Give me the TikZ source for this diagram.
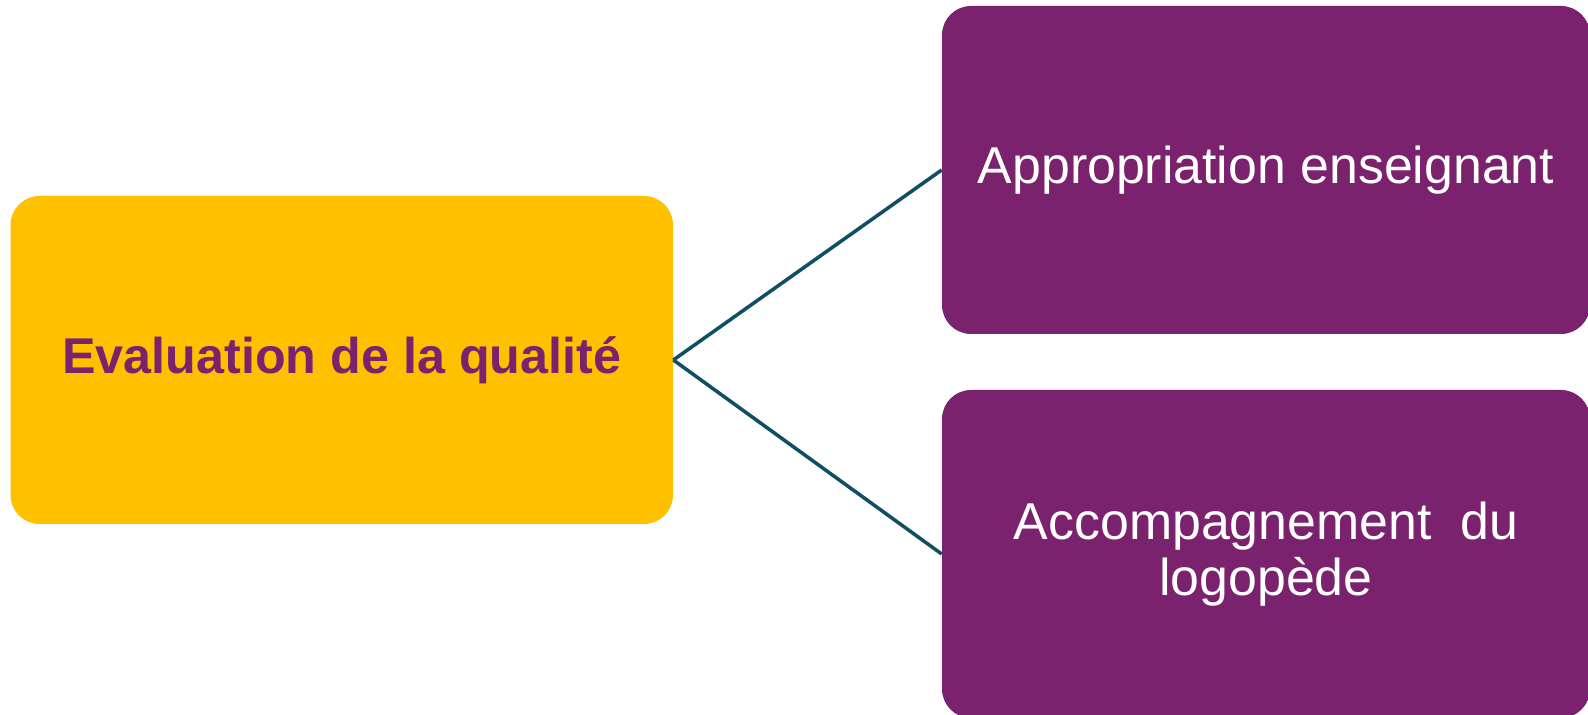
\documentclass[tikz,border=0pt]{standalone}
\usepackage{fontspec}
\setmainfont{Liberation Sans}
\usetikzlibrary{positioning}
\definecolor{prune}{RGB}{123,34,111}
\definecolor{ambre}{RGB}{255,192,0}
\definecolor{sarcelle}{RGB}{16,78,100}

\begin{document}
\begin{tikzpicture}[
    boite/.style={rounded corners=0.58cm,minimum width=12.96cm,minimum height=6.56cm,inner sep=0pt,align=center},
    lien/.style={draw=sarcelle,line width=2pt}]
			\useasboundingbox (0,0) rectangle (31.76,14.3);

			% bloc central
			\node[boite,fill=ambre,minimum width=13.25cm,text=prune,font=\bfseries\fontsize{28.6}{32}\selectfont] (qualite) at (6.835,7.1) {Evaluation de la qualit\'e};

			% blocs de droite
			\node[boite,fill=prune,text=white,font=\fontsize{29.5}{31.8}\selectfont] (appro) at (25.32,10.9) {Appropriation enseignant};
			\node[boite,fill=prune,text=white,font=\fontsize{29.5}{31.8}\selectfont] (accomp) at (25.32,3.22) {Accompagnement\ \ du\\logop\`ede};

			\draw[lien] (qualite.east) -- (appro.west);
			\draw[lien] (qualite.east) -- (accomp.west);
		\end{tikzpicture}
\end{document}
